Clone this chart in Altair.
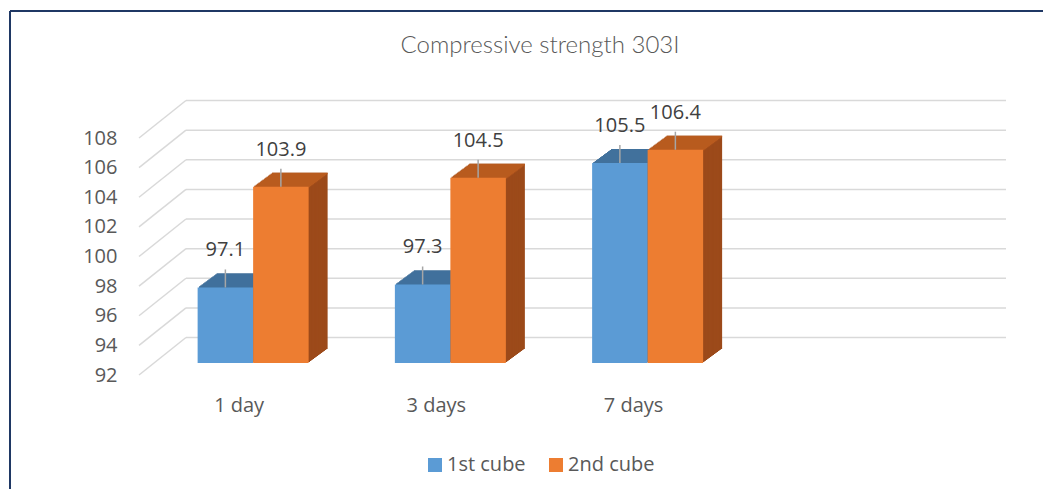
import altair as alt
import pandas as pd

# ---- data ----
categories = ["1 day", "3 days", "7 days"]
series_names = ["1st cube", "2nd cube"]
first_cube = [97.1, 97.3, 105.5]
second_cube = [103.9, 104.5, 106.4]
y_ticks = [92, 94, 96, 98, 100, 102, 104, 106, 108]
y_min, y_max = 92, 108
title_text = "Compressive strength 303I"

rows = []
for s, vals in zip(series_names, [first_cube, second_cube]):
    for c, v in zip(categories, vals):
        rows.append({"category": c, "series": s, "value": v, "label": f"{v:.1f}"})
df = pd.DataFrame(rows)
grid_df = pd.DataFrame({"v": y_ticks})
one_df = pd.DataFrame({"t": [title_text]})

# ---- styles ----
front_color = {"1st cube": "#5B9BD5", "2nd cube": "#ED7D31"}
top_color = {"1st cube": "#41719C", "2nd cube": "#B95B1F"}
side_color = {"1st cube": "#3A6690", "2nd cube": "#9C4A1A"}
grid_color = "#D9D9D9"
text_gray = "#595959"

bar_w = 55.5
half = bar_w / 2
series_dx = {"1st cube": -half, "2nd cube": half}
lift = -12
depth_dx, depth_dy, n_steps = 19, 14, 14
back_dx, back_dy = 47, -37.5

x_scale = alt.Scale(domain=categories + [" "], paddingInner=0, paddingOuter=0.0786)
y_scale = alt.Scale(domain=[y_min, y_max], zero=False, nice=False)

x_axis = alt.Axis(title=None, ticks=False, domain=False, grid=False, labelPadding=20,
                  labelOffset=-14, labelFontSize=20, labelFont="Open Sans",
                  labelColor=text_gray, labelAngle=0, labelOverlap=False)
y_axis = alt.Axis(title=None, values=y_ticks, tickCount=len(y_ticks), ticks=False,
                  domain=False, grid=False, labelPadding=22, labelFontSize=20,
                  labelFont="Open Sans", labelColor=text_gray, labelOverlap=False)


def X():
    return alt.X("category:N", scale=x_scale, axis=x_axis)


def Y(field="value:Q"):
    return alt.Y(field, scale=y_scale, axis=y_axis)


base = alt.Chart(df)
layers = []

# back wall gridlines and floor/side slants
layers.append(
    alt.Chart(grid_df).mark_rule(color=grid_color, strokeWidth=1.5, yOffset=back_dy).encode(
        y=Y("v:Q"), x=alt.value(back_dx), x2=alt.value(820 + back_dx))
)
layers.append(
    alt.Chart(grid_df).mark_rule(color=grid_color, strokeWidth=1.5, y2Offset=back_dy).encode(
        y=Y("v:Q"), y2=alt.Y2("v:Q"), x=alt.value(0), x2=alt.value(back_dx))
)

# side faces (stacked copies receding in depth)
for s in series_names:
    cx = series_dx[s]
    for k in range(n_steps, 0, -1):
        sx = depth_dx * k / n_steps
        sy = depth_dy * k / n_steps
        layers.append(
            base.transform_filter(alt.datum.series == s)
            .mark_bar(width=bar_w, xOffset=cx + sx, yOffset=lift - sy, y2Offset=lift - sy,
                      color=side_color[s])
            .encode(x=X(), y=Y(), y2=alt.datum(y_min))
        )

# top faces
for s in series_names:
    cx = series_dx[s]
    for k in range(n_steps, 0, -1):
        sx = depth_dx * k / n_steps
        sy = depth_dy * k / n_steps
        layers.append(
            base.transform_filter(alt.datum.series == s)
            .mark_bar(width=bar_w, xOffset=cx + sx, yOffset=lift - sy, y2Offset=lift - sy + 1.6,
                      color=top_color[s])
            .encode(x=X(), y=Y(), y2=alt.Y2("value:Q"))
        )

# front faces
color_enc = alt.Color("series:N",
                      scale=alt.Scale(domain=series_names,
                                      range=[front_color[s] for s in series_names]),
                      legend=alt.Legend(title=None))
for s in series_names:
    cx = series_dx[s]
    layers.append(
        base.transform_filter(alt.datum.series == s)
        .mark_bar(width=bar_w, xOffset=cx, yOffset=lift, y2Offset=lift)
        .encode(x=X(), y=Y(), y2=alt.datum(y_min), color=color_enc)
    )

# leader lines and value labels
for s in series_names:
    cx = series_dx[s]
    layers.append(
        base.transform_filter(alt.datum.series == s)
        .mark_rule(xOffset=cx, yOffset=lift, y2Offset=lift - 18, color="#A6A6A6", strokeWidth=1.5)
        .encode(x=X(), y=Y(), y2=alt.Y2("value:Q"))
    )
    layers.append(
        base.transform_filter(alt.datum.series == s)
        .mark_text(xOffset=cx, yOffset=lift - 37, font="Open Sans", fontSize=20,
                   color="#404040", align="center", baseline="middle")
        .encode(x=X(), y=Y(), text="label:N")
    )

# title
layers.append(
    alt.Chart(one_df).mark_text(font="Lato", fontWeight=300, fontSize=24, color=text_gray,
                                align="center", baseline="middle")
    .encode(text="t:N", x=alt.value(401), y=alt.value(-92))
)

# frame lines (top and left)
layers.append(
    alt.Chart(one_df).mark_rule(color="#1F3864", strokeWidth=2)
    .encode(x=alt.value(-129), x2=alt.value(912), y=alt.value(-127))
)
layers.append(
    alt.Chart(one_df).mark_rule(color="#1F3864", strokeWidth=2)
    .encode(x=alt.value(-129), y=alt.value(-127), y2=alt.value(360))
)

chart = (
    alt.layer(*layers)
    .properties(width=820, height=237,
                padding={"left": 131, "top": 130, "right": 84, "bottom": 114},
                autosize=alt.AutoSizeParams(type="none"))
    .configure_view(stroke=None)
    .configure_axis(grid=False, ticks=False, domain=False, title=None, labelOverlap=False)
    .configure_legend(orient="none", legendX=286, legendY=317, direction="horizontal",
                      symbolType="square", symbolSize=196, symbolStrokeWidth=0,
                      labelFontSize=20, labelFont="Open Sans", labelColor=text_gray,
                      columnPadding=20, labelOffset=2, padding=0)
)

chart.save("out.html", embed_options={"renderer": "svg", "actions": False})
